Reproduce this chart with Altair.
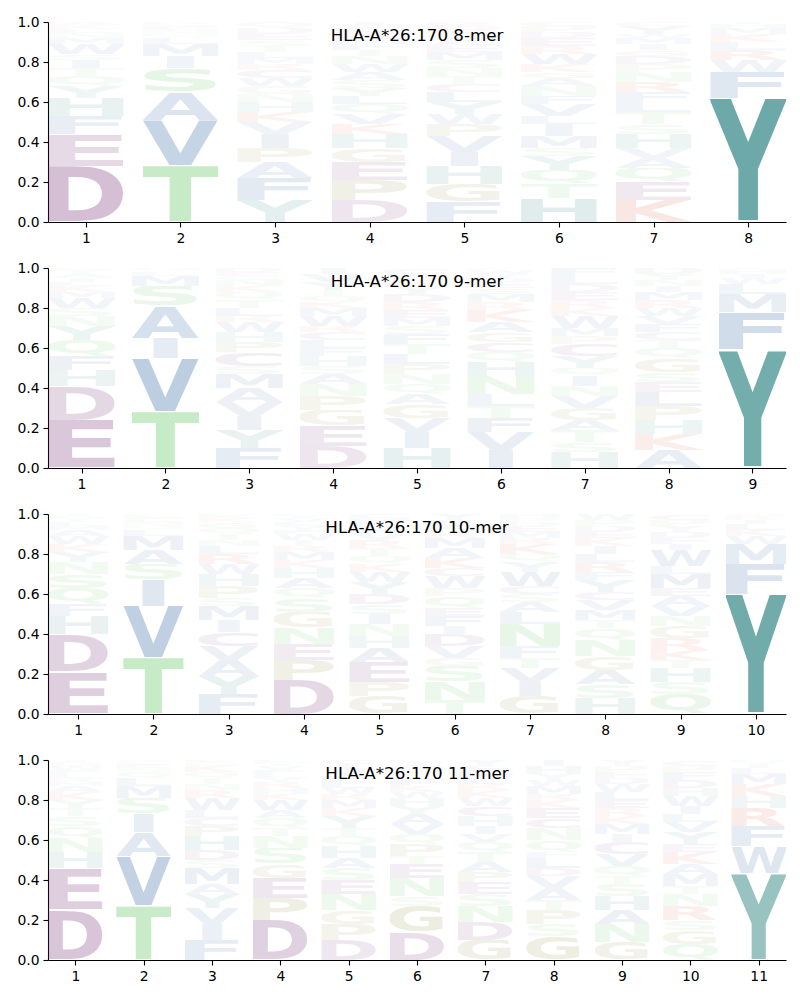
import base64
import altair as alt
import pandas as pd

# ---------------- data ----------------
TITLES = ["HLA-A*26:170 8-mer", "HLA-A*26:170 9-mer",
          "HLA-A*26:170 10-mer", "HLA-A*26:170 11-mer"]

# letters of each position, listed bottom -> top, with their heights
P8_LETTERS = ["DEFHYQTISWMNLKA", "TVASIMLQNECR", "YFAPIVKHNGWCRMLTSEDQ",
              "DPEGHKVQLYSAWNTFMRCI", "FGHIVPWYLCTNSMEAQKDR",
              "HTQYSMILVFNAGKWREDPC", "KEQAVHSTLFRNPDGIMWYC", "YFWRLKMHI"]
P8_HEIGHTS = [
    [.28, .16, .09, .09, .06, .05, .04, .04, .03, .05, .03, .025, .02, .02, .015],
    [.28, .23, .14, .12, .06, .06, .03, .02, .02, .02, .01, .01],
    [.11, .11, .08, .07, .07, .06, .05, .05, .04, .04, .04, .04, .03, .03, .03, .03, .03, .03, .03, .03],
    [.11, .10, .09, .07, .07, .05, .05, .05, .04, .04, .04, .04, .04, .04, .03, .03, .03, .03, .03, .02],
    [.10, .09, .09, .07, .08, .06, .05, .06, .05, .04, .04, .04, .04, .04, .03, .03, .03, .02, .02, .02],
    [.12, .07, .07, .07, .04, .06, .06, .04, .06, .04, .05, .04, .03, .04, .05, .04, .04, .03, .03, .02],
    [.11, .09, .07, .05, .05, .07, .05, .06, .05, .05, .05, .05, .04, .04, .03, .03, .03, .02, .04, .02],
    [.62, .13, .06, .05, .04, .04, .03, .02, .01],
]

P9_LETTERS = ["EDHFQYNSWMKLIATR", "TVIASMLQN", "FYIVAMSCPHWRLTQKNGED",
              "DEGPNASHFLCRWMKQTYVI", "HIVGAQNPLTFSMERDYKWC",
              "IVFTLNHQCGAKRMSEDYWP", "HSTAGVNIQYCPMWKREDLF",
              "AKHPLESGQTCFVWRMINYD", "YFMLWIHK"]
P9_HEIGHTS = [
    [.24, .17, .08, .07, .08, .07, .05, .04, .05, .03, .03, .02, .02, .02, .02, .01],
    [.28, .27, .10, .16, .10, .05, .02, .01, .01],
    [.10, .09, .07, .07, .07, .07, .04, .07, .05, .05, .05, .03, .04, .04, .04, .03, .03, .02, .02, .02],
    [.11, .10, .08, .07, .06, .05, .04, .05, .04, .04, .04, .03, .05, .04, .03, .03, .03, .04, .04, .03],
    [.10, .08, .07, .07, .05, .05, .05, .05, .05, .05, .05, .04, .04, .04, .04, .04, .04, .03, .03, .03],
    [.09, .09, .07, .06, .06, .09, .07, .05, .05, .05, .05, .06, .04, .04, .03, .03, .02, .02, .02, .01],
    [.08, .05, .06, .05, .06, .06, .05, .05, .04, .06, .06, .04, .04, .06, .04, .04, .04, .04, .04, .04],
    [.09, .08, .07, .07, .07, .05, .05, .07, .05, .04, .04, .04, .04, .04, .04, .04, .03, .03, .03, .03],
    [.59, .19, .09, .05, .03, .02, .02, .01],
]

P10_LETTERS = ["EDHFQSNYKWAMLTRI", "TVISAMLQNCEF", "FYAVCIMSPHWRLNTQGKED",
               "DPENGSQAHKMRTWFYLVIC", "GPEAHNISDYWKQTRVFLMC",
               "TNSGVDIFEQPWCKAMRHLY", "GIVTFNLASCWYQKRMEDPH",
               "HSAGNQTMVCYFRLIKEDPW", "QSHTKRGNVAEMLWIFDYPC", "YFMWKLIRH"]
P10_HEIGHTS = [
    [.21, .19, .09, .06, .08, .07, .06, .05, .04, .04, .03, .02, .02, .02, .01, .01],
    [.28, .26, .13, .08, .07, .07, .03, .02, .02, .02, .01, .01],
    [.10, .09, .08, .07, .07, .06, .07, .04, .06, .06, .05, .05, .04, .03, .03, .03, .03, .02, .01, .01],
    [.17, .10, .08, .08, .08, .07, .05, .05, .05, .04, .04, .03, .03, .03, .02, .02, .02, .02, .01, .01],
    [.09, .07, .10, .07, .06, .06, .05, .05, .05, .06, .05, .04, .04, .04, .04, .03, .03, .03, .02, .02],
    [.07, .09, .08, .04, .06, .06, .04, .05, .04, .06, .04, .06, .04, .05, .05, .05, .03, .03, .03, .03],
    [.09, .07, .07, .05, .06, .11, .06, .05, .04, .04, .07, .05, .04, .05, .03, .03, .03, .02, .02, .02],
    [.08, .07, .07, .07, .08, .06, .04, .05, .05, .04, .06, .04, .05, .04, .04, .04, .03, .03, .03, .03],
    [.10, .06, .07, .04, .05, .06, .06, .05, .05, .05, .04, .07, .04, .08, .03, .03, .03, .03, .03, .03],
    [.60, .15, .10, .04, .03, .03, .02, .02, .01],
]

P11_LETTERS = ["DEHNQSTYKAMRLFWGI", "TVAISMLQNECF", "FIVYAMSDHPCLWRNTQKGE",
               "DPEGSNTQAWKHRYLFVIMC", "DPGNESAHQTYKMRWLFVIC",
               "DGSNETPQVAYHWKFLRMIC", "GDNSEPATQVIHCWKRLMFY",
               "GSPTAVDLFQNCEKRMWYHI", "GNAHSTQVCIMKRELWDFPY",
               "QGSRNTMAKEYVLIWHDFPC", "YWFRHKMLIQ"]
P11_HEIGHTS = [
    [.25, .21, .08, .07, .06, .05, .04, .04, .04, .03, .02, .02, .02, .02, .02, .02, .01],
    [.27, .25, .12, .09, .08, .06, .04, .03, .02, .02, .01, .01],
    [.10, .08, .08, .07, .05, .08, .04, .05, .07, .05, .04, .04, .06, .04, .03, .03, .03, .03, .02, .01],
    [.20, .11, .10, .07, .08, .06, .04, .05, .04, .05, .03, .03, .03, .02, .02, .02, .02, .01, .01, .01],
    [.10, .08, .07, .08, .07, .06, .05, .06, .05, .04, .06, .04, .04, .03, .03, .03, .03, .03, .03, .02],
    [.14, .13, .05, .09, .07, .04, .06, .05, .05, .05, .04, .04, .03, .03, .03, .03, .02, .02, .02, .01],
    [.10, .09, .08, .06, .06, .05, .05, .05, .05, .04, .04, .05, .05, .04, .04, .03, .03, .03, .03, .03],
    [.12, .06, .07, .05, .06, .06, .04, .05, .03, .06, .06, .05, .05, .04, .03, .04, .03, .03, .04, .03],
    [.09, .09, .07, .07, .06, .04, .05, .06, .06, .04, .05, .04, .04, .04, .04, .04, .03, .03, .03, .03],
    [.08, .07, .05, .07, .06, .04, .06, .05, .06, .04, .06, .05, .04, .04, .05, .04, .04, .04, .03, .03],
    [.435, .135, .10, .09, .06, .06, .05, .03, .02, .02],
]

PANELS = [(TITLES[0], P8_LETTERS, P8_HEIGHTS),
          (TITLES[1], P9_LETTERS, P9_HEIGHTS),
          (TITLES[2], P10_LETTERS, P10_HEIGHTS),
          (TITLES[3], P11_LETTERS, P11_HEIGHTS)]

# ---------------- styles ----------------
PURPLE, GREEN, BLUE = "#691e69", "#3bb83b", "#104d92"
TEAL, RED, OLIVE = "#157673", "#d22e0a", "#7a7a22"
COLORS = {"D": PURPLE, "E": PURPLE, "C": PURPLE,
          "T": GREEN, "S": GREEN, "N": GREEN, "Q": GREEN,
          "A": BLUE, "V": BLUE, "L": BLUE, "I": BLUE, "M": BLUE, "F": BLUE, "W": BLUE,
          "Y": TEAL, "H": TEAL, "K": RED, "R": RED, "G": OLIVE, "P": OLIVE}
# approximate ink boxes of DejaVu Sans Bold glyphs (font units, 2048/em)
BOX = {"A": (0, 1585), "C": (113, 1400), "D": (186, 1604), "E": (186, 1257),
       "F": (186, 1257), "G": (113, 1587), "H": (186, 1526), "I": (186, 572),
       "K": (186, 1620), "L": (186, 1260), "M": (186, 1848), "N": (186, 1526),
       "P": (186, 1430), "Q": (113, 1628), "R": (186, 1577), "S": (115, 1370),
       "T": (20, 1383), "V": (0, 1585), "W": (47, 2157), "Y": (-6, 1485)}
ROUND = {"C", "G", "S", "Q"}
MIN_W = BOX["E"][1] - BOX["E"][0]   # glyphs are not stretched more than "E"


def glyph_url(letter):
    x0, x1 = BOX[letter]
    w = x1 - x0
    if w < MIN_W:
        cx = (x0 + x1) / 2
        x0, w = cx - MIN_W / 2, MIN_W
    top = 1520 if letter in ROUND else 1493
    bottom = -330 if letter == "Q" else (-29 if letter in ROUND else 0)
    h = top - bottom
    pad = 0.015 * h
    vb = f"{x0:.1f} {-(top + pad):.1f} {w:.1f} {h + 2 * pad:.1f}"
    svg = (f'<svg xmlns="http://www.w3.org/2000/svg" viewBox="{vb}" '
           f'preserveAspectRatio="none"><text x="0" y="0" font-family="DejaVu Sans" '
           f'font-weight="bold" font-size="2048" fill="{COLORS[letter]}">{letter}</text></svg>')
    return "data:image/svg+xml;base64," + base64.b64encode(svg.encode()).decode()


URLS = {k: glyph_url(k) for k in COLORS}

W, H = 738, 200
panels = []
for title, letters, heights in PANELS:
    n = len(letters)
    rows = []
    for p, (col, hs) in enumerate(zip(letters, heights), start=1):
        for k, (ch, hv) in enumerate(zip(col, hs)):
            rows.append({"pos": p, "order": k, "letter": ch, "h": hv, "url": URLS[ch]})
    df = pd.DataFrame(rows)

    logo = alt.Chart(df).transform_stack(
        stack="h", groupby=["pos"], as_=["y0", "y1"],
        sort=[alt.SortField("order", order="ascending")]
    ).transform_calculate(
        x0="datum.pos - 0.4", x1="datum.pos + 0.4"
    ).mark_image(aspect=False).encode(
        x=alt.X("x0:Q", scale=alt.Scale(domain=[0.6, n + 0.4], nice=False, zero=False),
                axis=alt.Axis(values=list(range(1, n + 1)), format="d", title=None)),
        x2="x1:Q",
        y=alt.Y("y1:Q", scale=alt.Scale(domain=[0, 1], nice=False),
                axis=alt.Axis(values=[0, 0.2, 0.4, 0.6, 0.8, 1.0], format=".1f", title=None)),
        y2="y0:Q",
        url="url:N",
        opacity=alt.Opacity("h:Q", scale=None, legend=None),
    )
    label = alt.Chart(pd.DataFrame({"t": [title]})).mark_text(
        font="DejaVu Sans", fontSize=16.7, color="black", baseline="middle"
    ).encode(text="t:N", x=alt.value(W / 2), y=alt.value(14))
    panels.append(alt.layer(logo, label).properties(width=W, height=H))

chart = alt.vconcat(*panels, spacing=46, bounds="flush").properties(
    padding={"left": 8, "top": 7, "right": 5, "bottom": 5}
).configure_view(stroke=None).configure_axis(
    grid=False, domainColor="black", tickColor="black", labelColor="black",
    labelFont="DejaVu Sans", labelFontSize=13.9, tickSize=5, labelPadding=4,
    domainWidth=1.1, tickWidth=1.1
)

chart.save("out.html", embed_options={"renderer": "svg", "actions": False})
